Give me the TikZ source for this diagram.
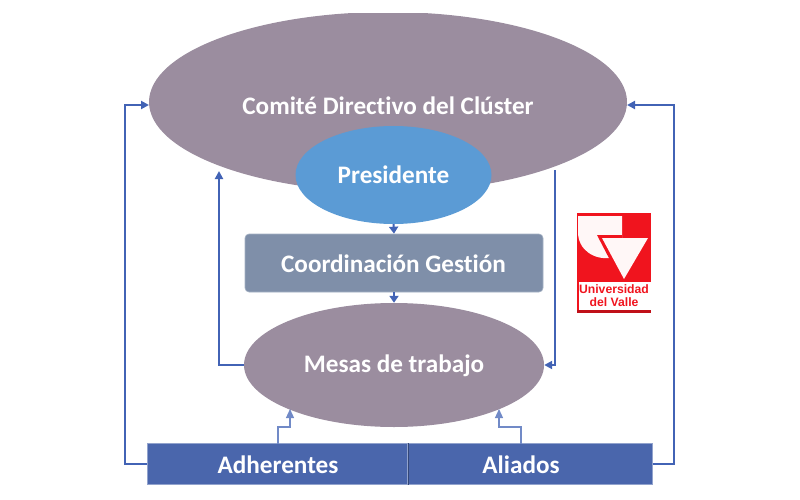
\documentclass[tikz,border=0pt]{standalone}
\usepackage{fontspec}
\setmainfont[Ligatures=CommonOff]{Carlito}
\newfontfamily\logofont{Liberation Sans}
\usetikzlibrary{arrows.meta,shapes.geometric}
\definecolor{mauve}{HTML}{9B8D9F}
\definecolor{presi}{HTML}{5B9BD5}
\definecolor{coord}{HTML}{7F8FA9}
\definecolor{barblue}{HTML}{4A66AC}
\definecolor{linkblue}{HTML}{4263B5}
\definecolor{ured}{HTML}{F0141E}
\tikzset{
  lbl/.style={text=white,font=\bfseries\fontsize{25.2}{27}\selectfont,inner sep=0pt},
  oval/.style={ellipse,inner sep=0pt,minimum width=#1},
  link/.style={draw=linkblue,line width=2pt,-{Triangle[length=8pt,width=8pt]}},
  thinlink/.style={draw=linkblue!75,line width=1.2pt,-{Triangle[length=9pt,width=8pt]}},
  stub/.style={draw=linkblue,line width=2pt,-{Triangle[length=7pt,width=9pt]}}
}
\begin{document}
\begin{tikzpicture}[x=1pt,y=-1pt]
\useasboundingbox (0,0) rectangle (800,500);
% ovals and boxes
\begin{scope}
\clip (0,14) rectangle (800,500);
\node[oval=478pt,minimum height=180pt,fill=mauve] (comite) at (388,102) {};
\end{scope}
\node[oval=196pt,minimum height=98pt,fill=presi] (presidente) at (393.5,175) {};
\node[draw=coord!70!white,line width=.6pt,fill=coord,rounded corners=4pt,minimum width=298pt,minimum height=58pt,inner sep=0pt] (coordinacion) at (394,263) {};
\node[oval=300pt,minimum height=124pt,fill=mauve] (mesas) at (394,365) {};
\node[draw=barblue!60!white,line width=.7pt,fill=barblue,minimum width=260pt,minimum height=41pt,inner sep=0pt,anchor=east] (adherentes) at (408,464) {};
\node[draw=barblue!60!white,line width=.7pt,fill=barblue,minimum width=244pt,minimum height=41pt,inner sep=0pt,anchor=west] (aliados) at (408,464) {};
\draw[barblue!70!black,line width=.8pt] (adherentes.north east) -- (adherentes.south east);
% labels
\node[lbl] (tcomite) at (388,106) {Comité Directivo del Clúster};
\node[lbl] (tpres) at (393.5,175) {Presidente};
\node[lbl] (tcoord) at (393.5,264) {Coordinación Gestión};
\node[lbl] (tmesas) at (394,366) {Mesas de trabajo};
\node[lbl] (tadh) at (278,465) {Adherentes};
\node[lbl] (tali) at (521,465) {Aliados};
% connectors
\coordinate (cl) at (149,105);
\coordinate (cr) at (627,105);
\draw[link] (adherentes.west) -- (125,464) -- (125,105) -- (cl);
\draw[link] (aliados.east) -- (674,464) -- (674,105) -- (cr);
\coordinate (il) at (219,171);
\coordinate (irt) at (555,170);
\draw[link] (mesas.west) -- (219,365) -- (il);
\draw[link] (irt) -- (555,365) -- (mesas.east);
\coordinate (ad) at (290,409);
\coordinate (al) at (499,409);
\draw[thinlink] (278,443.5) -- (278,427) -- (290,427) -- (ad);
\draw[thinlink] (521,443.5) -- (521,427) -- (499,427) -- (al);
\draw[stub] (presidente.south) -- (coordinacion.north);
\draw[stub] (coordinacion.south) -- (mesas.north);
% logo
\fill[ured] (577,213) rectangle (651,282);
\fill[white!97!red] (578,216) -- (622,216) -- (622,238) -- (601,238) -- (611,258)
  .. controls (594,260) and (578,250) .. (578,232) -- cycle;
\fill[ured] (597,235) -- (622,235) -- (622,240) -- (611,262) -- cycle;
\fill[white!97!red] (602,238) -- (648,238) -- (624,279) -- cycle;
\fill[ured] (577,282) rectangle (578.5,310);
\fill[ured!80!black] (577,310) rectangle (651,313);
\node[text=ured,font=\logofont\bfseries\fontsize{12.2}{12.8}\selectfont,align=center,inner sep=0pt] (ulogo) at (614,296) {Universidad\\del Valle};
\end{tikzpicture}
\end{document}
